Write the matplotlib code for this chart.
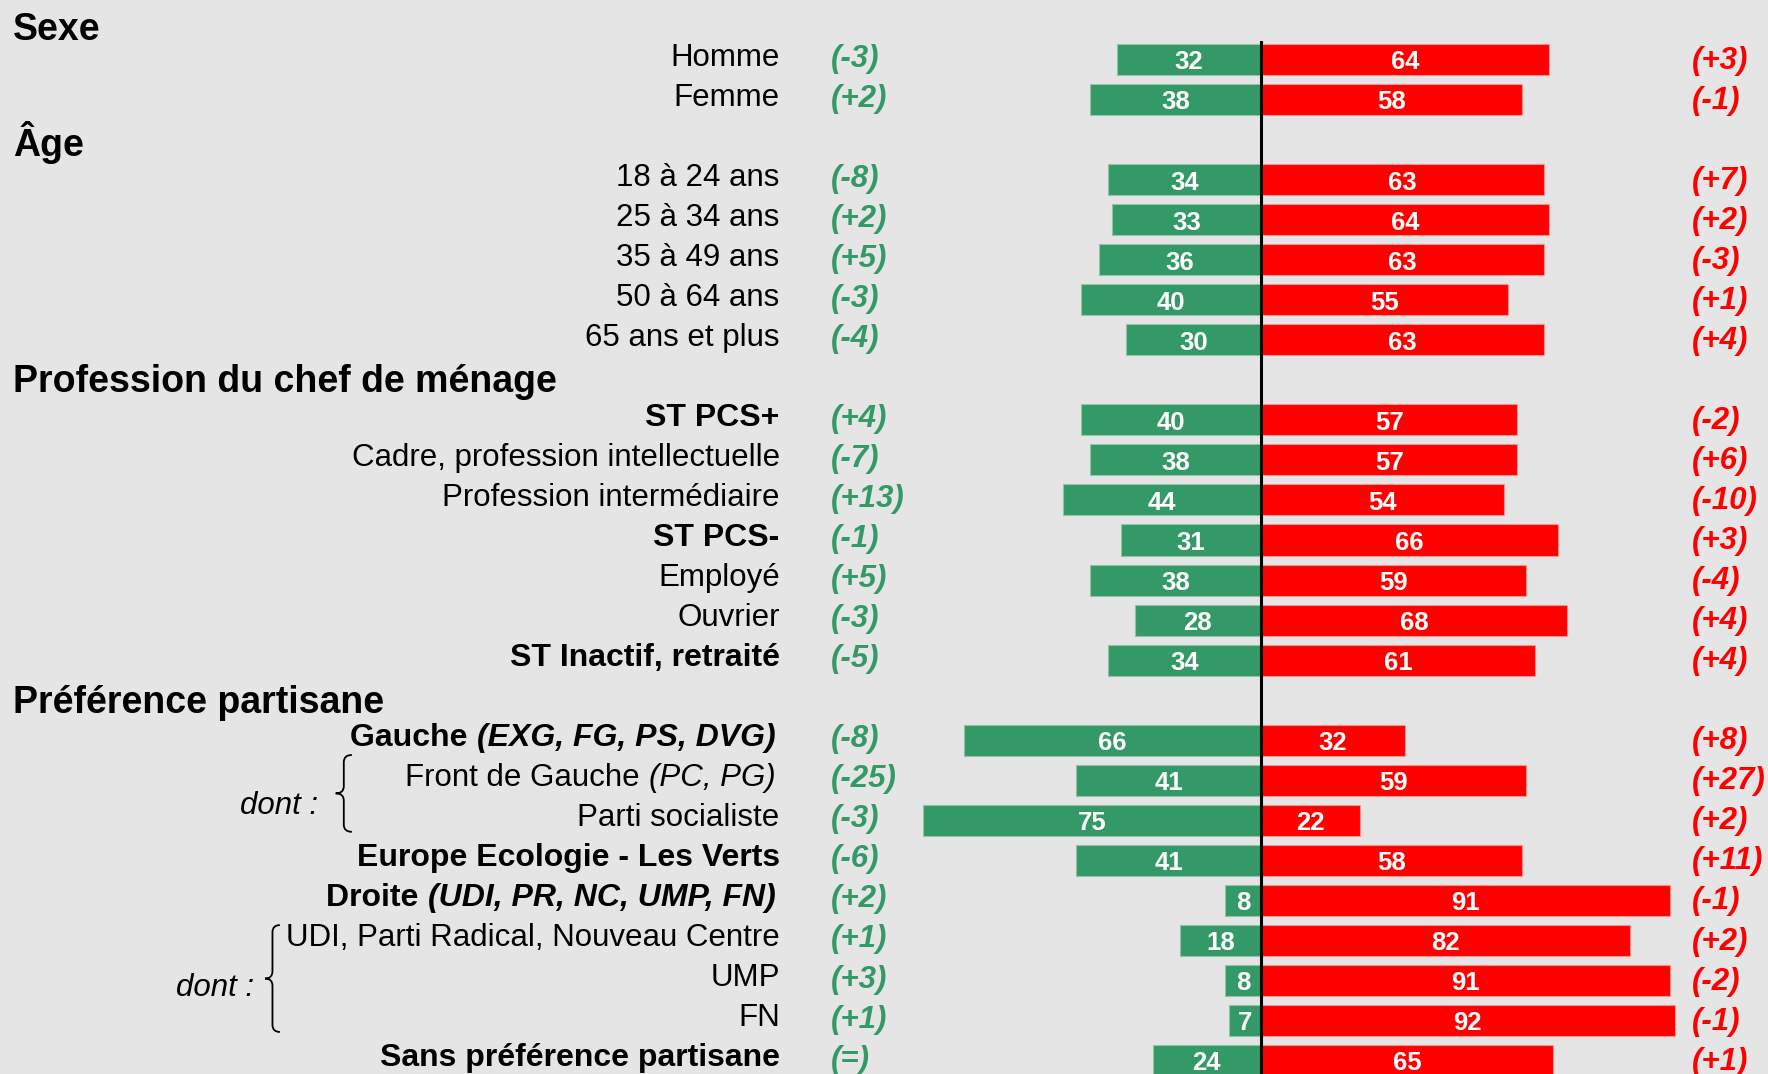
import matplotlib
matplotlib.use("Agg")
import matplotlib.pyplot as plt
import matplotlib.transforms as mtransforms
from matplotlib.path import Path
from matplotlib.patches import PathPatch

plt.rcParams['font.family'] = ['Liberation Sans', 'DejaVu Sans']

# ---- data ----
headers = ["Sexe", "Âge", "Profession du chef de ménage", "Préférence partisane"]
section_sizes = [2, 5, 7, 9]

labels = ["Homme", "Femme",
          "18 à 24 ans", "25 à 34 ans", "35 à 49 ans", "50 à 64 ans", "65 ans et plus",
          "ST PCS+", "Cadre, profession intellectuelle", "Profession intermédiaire",
          "ST PCS-", "Employé", "Ouvrier", "ST Inactif, retraité",
          "Gauche ", "Front de Gauche ", "Parti socialiste", "Europe Ecologie - Les Verts",
          "Droite ", "UDI, Parti Radical, Nouveau Centre", "UMP", "FN",
          "Sans préférence partisane"]
italic_parts = ["", "", "", "", "", "", "", "", "", "", "", "", "", "",
                "(EXG, FG, PS, DVG)", "(PC, PG)", "", "", "(UDI, PR, NC, UMP, FN)",
                "", "", "", ""]
bold_rows = [0, 0, 0, 0, 0, 0, 0, 1, 0, 0, 1, 0, 0, 1,
             1, 0, 0, 1, 1, 0, 0, 0, 1]

green_vals = [32, 38, 34, 33, 36, 40, 30, 40, 38, 44, 31, 38, 28, 34,
              66, 41, 75, 41, 8, 18, 8, 7, 24]
red_vals = [64, 58, 63, 64, 63, 55, 63, 57, 57, 54, 66, 59, 68, 61,
            32, 59, 22, 58, 91, 82, 91, 92, 65]
green_chg = ["(-3)", "(+2)", "(-8)", "(+2)", "(+5)", "(-3)", "(-4)",
             "(+4)", "(-7)", "(+13)", "(-1)", "(+5)", "(-3)", "(-5)",
             "(-8)", "(-25)", "(-3)", "(-6)", "(+2)", "(+1)", "(+3)", "(+1)", "(=)"]
red_chg = ["(+3)", "(-1)", "(+7)", "(+2)", "(-3)", "(+1)", "(+4)",
           "(-2)", "(+6)", "(-10)", "(+3)", "(-4)", "(+4)", "(+4)",
           "(+8)", "(+27)", "(+2)", "(+11)", "(-1)", "(+2)", "(-2)", "(-1)", "(+1)"]

GREEN = "#339966"
RED = "#FF0000"
BG = "#E5E5E5"

# row slots: each header takes a slot, then its rows
ypos, header_y = [], []
slot = 0
for n in section_sizes:
    header_y.append(slot + 0.06)
    slot += 1
    for k in range(n):
        ypos.append(slot)
        slot += 1
header_y[0] += 0.2

fig = plt.figure(figsize=(17.68, 10.74), dpi=100, facecolor=BG)
ax = fig.add_axes([0, 0, 1, 1])
ax.set_facecolor(BG)
ax.set_xlim(-280.2, 112.7)
ax.set_ylim(26.34, -0.49)
ax.axis('off')

ax.barh(ypos, [-g for g in green_vals], height=0.775, color=GREEN,
        edgecolor="#8fc4a8", linewidth=0.8)
ax.barh(ypos, red_vals, height=0.775, color=RED,
        edgecolor="#ff9090", linewidth=0.8)
ax.plot([0, 0], [0.56, 26.4], color="black", lw=2.2)

for y, g, r in zip(ypos, green_vals, red_vals):
    ax.text(-g / 2, y + 0.07, str(g), ha='center', va='center', color='white',
            fontsize=18.5, fontweight='bold')
    ax.text(r / 2, y + 0.07, str(r), ha='center', va='center', color='white',
            fontsize=18.5, fontweight='bold')

tr = ax.get_yaxis_transform()
renderer = fig.canvas.get_renderer()

for y, h in zip(header_y, headers):
    ax.text(0.0076, y, h, transform=tr, ha='left', va='center',
            fontsize=27, fontweight='bold', color='black')

for i, y in enumerate(ypos):
    w = 'bold' if bold_rows[i] else 'normal'
    fs = 23 if bold_rows[i] else 22.5
    x_right = 0.441
    if italic_parts[i]:
        x_right = 0.4385
        t = ax.text(x_right, y - 0.05, italic_parts[i], transform=tr, ha='right',
                    va='center', fontsize=fs, fontweight=w, style='italic')
        wpx = t.get_window_extent(renderer).width
        tr2 = mtransforms.offset_copy(tr, fig=fig, x=-wpx, y=0, units='dots')
        ax.text(x_right, y - 0.05, labels[i], transform=tr2, ha='right',
                va='center', fontsize=fs, fontweight=w)
    else:
        ax.text(x_right, y - 0.05, labels[i], transform=tr, ha='right',
                va='center', fontsize=fs, fontweight=w)
    ax.text(0.470, y - 0.02, green_chg[i], transform=tr, ha='left', va='center',
            fontsize=22.5, fontweight='bold', style='italic', color=GREEN)
    ax.text(0.957, y + 0.03, red_chg[i], transform=tr, ha='left', va='center',
            fontsize=22.5, fontweight='bold', style='italic', color=RED)


def brace(x_tip, x_back, y0, y1, d=0.18):
    xm = (x_tip + x_back) / 2
    ym = (y0 + y1) / 2
    verts = [(x_back, y0), (xm, y0), (xm, y0 + d), (xm, ym - d),
             (xm, ym), (x_tip, ym), (xm, ym), (xm, ym + d),
             (xm, y1 - d), (xm, y1), (x_back, y1)]
    codes = [Path.MOVETO, Path.CURVE3, Path.CURVE3, Path.LINETO,
             Path.CURVE3, Path.CURVE3, Path.CURVE3, Path.CURVE3,
             Path.LINETO, Path.CURVE3, Path.CURVE3]
    ax.add_patch(PathPatch(Path(verts, codes), fill=False, lw=1.3, color='black'))


brace(-205.6, -202.0, 18.37, 20.29)
brace(-221.3, -218.0, 22.62, 25.29)
ax.text(0.180, 19.65, "dont :", transform=tr, ha='right', va='center',
        fontsize=22.5, style='italic')
ax.text(0.1435, 24.2, "dont :", transform=tr, ha='right', va='center',
        fontsize=22.5, style='italic')

fig.savefig("out.png", dpi=100, facecolor=BG)
